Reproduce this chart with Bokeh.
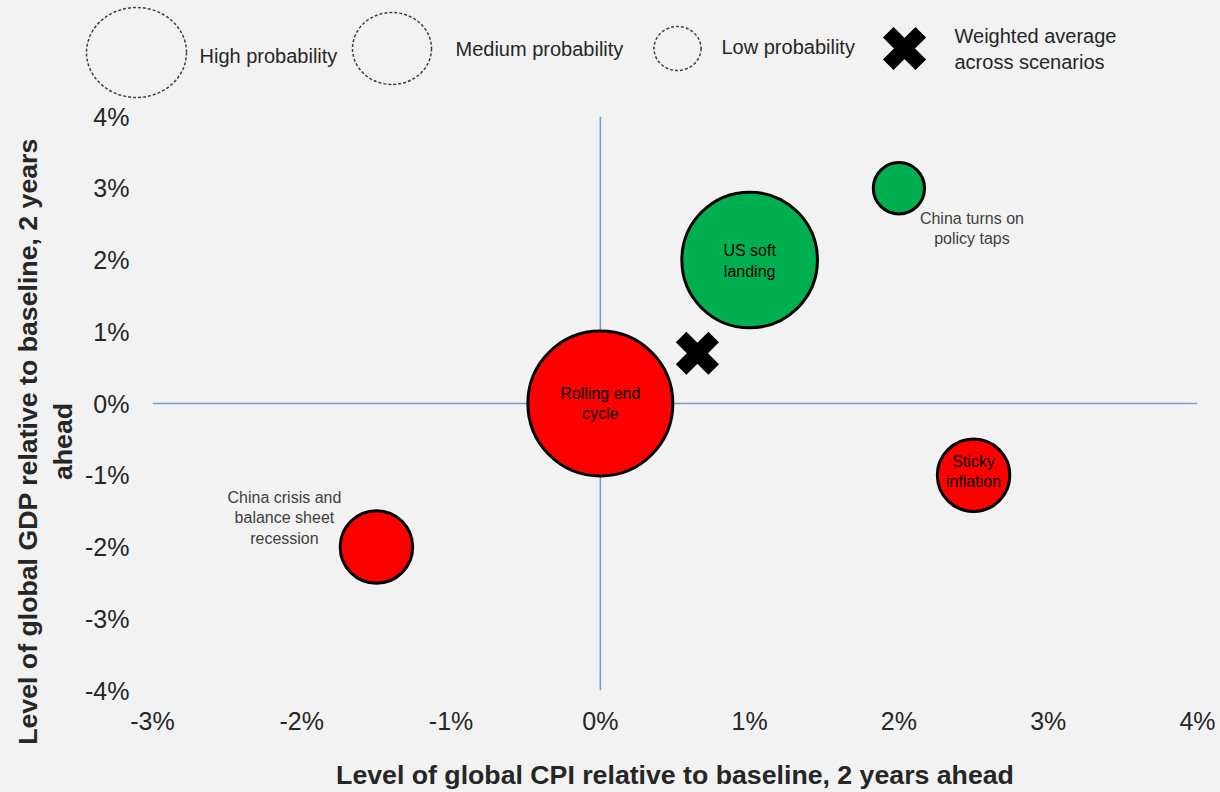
import numpy as np
from bokeh.plotting import figure
from bokeh.layouts import column, row
from bokeh.models import ColumnDataSource, FixedTicker, PrintfTickFormatter, Span, Range1d
from bokeh.core.properties import value
from bokeh.embed import file_html
from bokeh.resources import INLINE

# ---------------- data ----------------
scenarios = ["Rolling end\ncycle", "US soft\nlanding", "China turns on\npolicy taps",
             "Sticky\ninflation", "China crisis and\nbalance sheet\nrecession"]
cpi_level = [0.0, 1.0, 2.0, 2.5, -1.5]          # % vs baseline, 2 years ahead
gdp_level = [0.0, 2.0, 3.0, -1.0, -2.0]         # % vs baseline, 2 years ahead
probability = [40, 35, 5, 10, 10]                # relative scenario weight (bubble area)
outcome = ["bad", "good", "good", "bad", "bad"]
avg_cpi = [0.65]
avg_gdp = [0.7]
x_ticks = [-3, -2, -1, 0, 1, 2, 3, 4]
y_ticks = [-4, -3, -2, -1, 0, 1, 2, 3, 4]
x_title = "Level of global CPI relative to baseline, 2 years ahead"
y_title = "Level of global GDP relative to baseline, 2 years\nahead"
legend_labels = ["High probability", "Medium probability", "Low probability",
                 "Weighted average\nacross scenarios"]

# ---------------- style ----------------
FONT = "Liberation Sans"
BG = "#f2f2f2"
COLORS = {"good": "#00b050", "bad": "#ff0000"}
label_inside = [True, True, False, True, False]
label_dx = [0, 0, 73, 0, -92]
label_dy = [0, 1, 40, -4, -29]
K = 11.46  # px radius per sqrt(weight)
LEG_H = 100
TITLE_W = 82


def strip(width, height):
    f = figure(width=width, height=height, x_range=Range1d(0, width), y_range=Range1d(height, 0),
               output_backend="svg", toolbar_location=None, x_axis_type=None, y_axis_type=None,
               min_border=0, background_fill_color=BG, border_fill_color=BG, outline_line_color=None)
    f.grid.visible = False
    f.frame_align = False
    return f


# ---------------- main chart ----------------
p = figure(width=1220 - TITLE_W, height=792 - LEG_H, x_range=Range1d(-3, 4), y_range=Range1d(-4, 4),
           output_backend="svg", toolbar_location=None,
           min_border_left=150 - TITLE_W, min_border_right=23, min_border_top=16, min_border_bottom=95,
           background_fill_color=BG, border_fill_color=BG, outline_line_color=None)
p.grid.visible = False
p.frame_align = False

for dim in ("width", "height"):
    p.add_layout(Span(location=0, dimension=dim, line_color="#6f9fd4", line_width=1.5, level="underlay"))

src = ColumnDataSource(dict(
    x=cpi_level, y=gdp_level,
    size=[2 * K * np.sqrt(v) for v in probability],
    color=[COLORS[o] for o in outcome],
    label=scenarios,
    tcolor=["#000000" if i else "#404040" for i in label_inside],
    dx=label_dx, dy=label_dy,
))
p.scatter(x="x", y="y", size="size", fill_color="color", line_color="black", line_width=3, source=src)
p.text(x="x", y="y", text="label", x_offset="dx", y_offset="dy", text_align="center",
       text_baseline="middle", text_font=value(FONT), text_font_size="16px",
       text_color="tcolor", text_line_height=1.2, source=src)
p.scatter(x=avg_cpi, y=avg_gdp, marker="x", size=46, line_width=15, line_color="black")

for ax, ticks in ((p.xaxis[0], x_ticks), (p.yaxis[0], y_ticks)):
    ax.ticker = FixedTicker(ticks=ticks)
    ax.formatter = PrintfTickFormatter(format="%d%%")
    ax.axis_line_color = None
    ax.major_tick_line_color = None
    ax.minor_tick_line_color = None
    ax.major_tick_out = 0
    ax.major_tick_in = 0
    ax.major_label_text_font = FONT
    ax.major_label_text_font_size = "25px"
    ax.major_label_text_color = "#262626"
    ax.axis_label_text_font = FONT
    ax.axis_label_text_font_size = "26.7px"
    ax.axis_label_text_font_style = "bold"
    ax.axis_label_text_color = "#262626"

p.xaxis.axis_label = x_title
p.xaxis.major_label_standoff = 16
p.xaxis.axis_label_standoff = 22
p.yaxis.major_label_standoff = 23

# ---------------- y-axis title strip (two centred lines, a little below mid-height) ----------------
yt = strip(TITLE_W, 792 - LEG_H)
yt.text(x=[45], y=[441 - LEG_H], text=[y_title], angle=np.pi / 2,
        text_align="center", text_baseline="middle", text_font=value(FONT),
        text_font_size="26.7px", text_font_style="bold", text_color="#262626",
        text_line_height=1.15)

# ---------------- legend strip ----------------
lg = strip(1220, LEG_H)
lg.ellipse(x=[136, 391.5, 677], y=[52, 48, 48], width=[100, 79, 47], height=[90, 72, 44],
           fill_color=None, line_color="#404040", line_width=1.5, line_dash="3 2")
lg.scatter(x=[904], y=[48], marker="x", size=46, line_width=15, line_color="black")
lg.text(x=[199, 455, 721, 954], y=[55, 48, 46, 48.5], text=legend_labels,
        text_align="left", text_baseline="middle", text_font=value(FONT),
        text_font_size="20px", text_color="#262626", text_line_height=1.15)

layout = column(lg, row(yt, p, spacing=0), spacing=0, styles={"background-color": BG})
open("out.html", "w").write(file_html(layout, INLINE))
